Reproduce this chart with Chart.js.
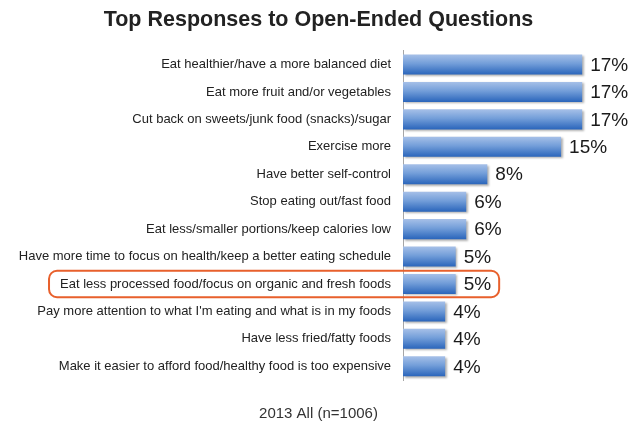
<!DOCTYPE html>
<html>
<head>
<meta charset="utf-8">
<script src="https://cdn.jsdelivr.net/npm/chart.js@4.4.0/dist/chart.umd.min.js"></script>
<style>
  html, body { margin: 0; padding: 0; background: #fff; }
  #wrap { width: 637px; height: 423px; }
</style>
</head>
<body>
<div id="wrap"><canvas id="chart" width="637" height="423"></canvas></div>
<script>
const categories = [
  "Eat healthier/have a more balanced diet",
  "Eat more fruit and/or vegetables",
  "Cut back on sweets/junk food (snacks)/sugar",
  "Exercise more",
  "Have better self-control",
  "Stop eating out/fast food",
  "Eat less/smaller portions/keep calories low",
  "Have more time to focus on health/keep a better eating schedule",
  "Eat less processed food/focus on organic and fresh foods",
  "Pay more attention to what I'm eating and what is in my foods",
  "Have less fried/fatty foods",
  "Make it easier to afford food/healthy food is too expensive"
];
const values = [17, 17, 17, 15, 8, 6, 6, 5, 5, 4, 4, 4];
const highlightIndex = 8;
const chartTitle = "Top Responses to Open-Ended Questions";
const footerText = "2013 All (n=1006)";

const FONT = "Liberation Sans, Arial, sans-serif";
const BAR_PCT = 0.73;

// blue gradient per bar, light on top, dark at the bottom
function barGradient(context) {
  const chart = context.chart;
  const ys = chart.scales && chart.scales.y;
  if (!chart.chartArea || !ys) return "#5b8fd4";
  const y = ys.getPixelForValue(context.dataIndex);
  const half = (chart.chartArea.bottom - chart.chartArea.top) / categories.length * BAR_PCT / 2;
  const g = chart.ctx.createLinearGradient(0, y - half, 0, y + half);
  g.addColorStop(0, "#a6c0e8");
  g.addColorStop(0.45, "#739ed9");
  g.addColorStop(1, "#2a65bb");
  return g;
}

const shadowPlugin = {
  id: "barShadow",
  beforeDatasetsDraw(chart) {
    const ctx = chart.ctx;
    ctx.save();
    ctx.shadowColor = "rgba(0,0,0,0.3)";
    ctx.shadowBlur = 2;
    ctx.shadowOffsetX = 1.5;
    ctx.shadowOffsetY = 1.5;
  },
  afterDatasetsDraw(chart) {
    chart.ctx.restore();
  }
};

const valueLabels = {
  id: "valueLabels",
  afterDatasetsDraw(chart) {
    const ctx = chart.ctx;
    const meta = chart.getDatasetMeta(0);
    ctx.save();
    ctx.font = "19px " + FONT;
    ctx.fillStyle = "#1a1a1a";
    ctx.textAlign = "left";
    ctx.textBaseline = "middle";
    meta.data.forEach(function(bar, i) {
      ctx.fillText(values[i] + "%", bar.x + 8, bar.y + 1);
    });
    ctx.restore();
  }
};

// rounded orange frame around one row
const highlightBox = {
  id: "highlightBox",
  afterDraw(chart) {
    const ctx = chart.ctx;
    const ys = chart.scales.y;
    const xs = chart.scales.x;
    const step = (chart.chartArea.bottom - chart.chartArea.top) / categories.length;
    const yc = ys.getPixelForValue(highlightIndex);
    ctx.save();
    ctx.font = "13px " + FONT;
    const labelW = ctx.measureText(categories[highlightIndex]).width;
    ctx.font = "19px " + FONT;
    const valW = ctx.measureText(values[highlightIndex] + "%").width;
    const left = chart.chartArea.left - 12 - labelW - 11;
    const right = xs.getPixelForValue(values[highlightIndex]) + 8 + valW + 8;
    const top = yc - step / 2 + 0.5;
    const h = step - 1;
    ctx.strokeStyle = "#e8602c";
    ctx.lineWidth = 2;
    ctx.beginPath();
    ctx.roundRect(left, top, right - left, h, 8);
    ctx.stroke();
    ctx.restore();
  }
};

new Chart(document.getElementById("chart"), {
  type: "bar",
  data: {
    labels: categories,
    datasets: [{
      data: values,
      backgroundColor: barGradient,
      borderWidth: 0,
      categoryPercentage: 1,
      barPercentage: BAR_PCT
    }]
  },
  options: {
    indexAxis: "y",
    responsive: false,
    animation: false,
    layout: { padding: 0 },
    scales: {
      x: {
        display: false,
        min: 0,
        max: 22.2
      },
      y: {
        grid: { display: false, drawTicks: false },
        border: { display: true, color: "#a6a6a6", width: 1 },
        ticks: {
          padding: 12,
          color: "#222",
          font: { family: FONT, size: 13 },
          autoSkip: false
        },
        afterFit(scale) { scale.width = 403; }
      }
    },
    plugins: {
      legend: { display: false },
      tooltip: { enabled: false },
      title: {
        display: true,
        text: chartTitle,
        color: "#222",
        font: { family: FONT, size: 21.5, weight: "bold" },
        padding: { top: 7, bottom: 18 }
      },
      subtitle: {
        display: true,
        position: "bottom",
        text: footerText,
        color: "#333",
        font: { family: FONT, size: 15, weight: "normal" },
        padding: { top: 25, bottom: 0 }
      }
    }
  },
  plugins: [shadowPlugin, valueLabels, highlightBox]
});
</script>
</body>
</html>
